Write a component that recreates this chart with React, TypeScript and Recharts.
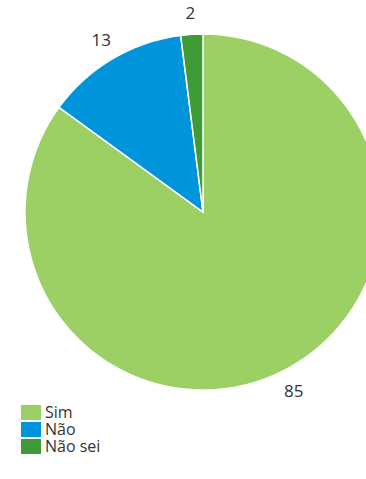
import React from "react";
import { PieChart, Pie, Cell } from "recharts";

const categories = ["Sim", "Não", "Não sei"];
const values = [85, 13, 2];
const colors = ["#9ccf64", "#0095da", "#3f9b38"];

const data = categories.map((name, i) => ({ name, value: values[i] }));

const RAD = Math.PI / 180;

const renderLabel = (props: any) => {
  const { cx, cy, midAngle, outerRadius, value } = props;
  const r = outerRadius + 22;
  const x = cx + r * Math.cos(-midAngle * RAD);
  const y = cy + r * Math.sin(-midAngle * RAD);
  return (
    <text
      x={x}
      y={y}
      textAnchor="middle"
      dominantBaseline="central"
      fill="#333333"
      fontSize={17}
      fontFamily="'Open Sans', sans-serif"
    >
      {value}
    </text>
  );
};

export default function App() {
  return (
    <div style={{ position: "absolute", left: 0, top: 0, width: 366, height: 479, overflow: "hidden", background: "#fff" }}>
      <PieChart width={366} height={479} margin={{ top: 0, right: 0, bottom: 0, left: 0 }}>
        <Pie
          data={data}
          dataKey="value"
          nameKey="name"
          cx={203}
          cy={212}
          outerRadius={178}
          startAngle={90}
          endAngle={-270}
          stroke="#ffffff"
          strokeWidth={1.5}
          label={renderLabel}
          labelLine={false}
          isAnimationActive={false}
        >
          {data.map((d, i) => (
            <Cell key={d.name} fill={colors[i]} />
          ))}
        </Pie>
      </PieChart>
      <div style={{ position: "absolute", left: 21, top: 404, fontFamily: "'Open Sans', sans-serif", fontSize: 16, color: "#333333" }}>
        {categories.map((c, i) => (
          <div key={c} style={{ display: "flex", alignItems: "center", height: 17 }}>
            <span style={{ display: "inline-block", width: 20, height: 15, background: colors[i], marginRight: 4 }} />
            <span style={{ lineHeight: "17px" }}>{c}</span>
          </div>
        ))}
      </div>
    </div>
  );
}
